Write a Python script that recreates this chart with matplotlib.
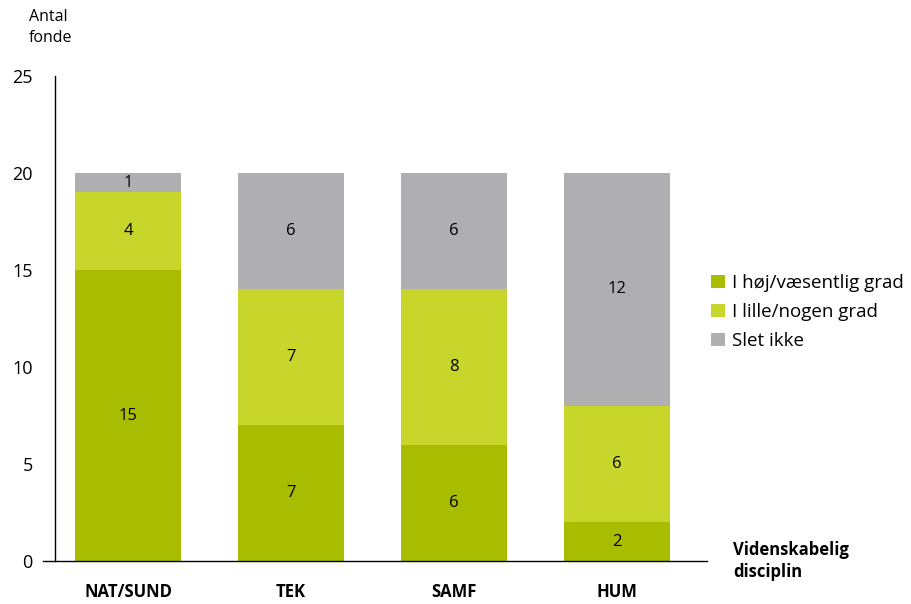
import matplotlib.pyplot as plt
import numpy as np

plt.rcParams['font.family'] = ['Open Sans', 'DejaVu Sans']

categories = ['NAT/SUND', 'TEK', 'SAMF', 'HUM']
hoej = [15, 7, 6, 2]
lille = [4, 7, 8, 6]
slet = [1, 6, 6, 12]
series_names = ['I høj/væsentlig grad', 'I lille/nogen grad', 'Slet ikke']
colors = ['#a9bd00', '#c8d62b', '#afafb2']

fig = plt.figure(figsize=(9.11, 6.04), dpi=100)
ax = fig.add_axes([55/911, 1 - 561/604, (707 - 55)/911, (561 - 76)/604])

x = np.arange(len(categories))
bottom = np.zeros(len(categories))
handles = []
for vals, name, c in zip([hoej, lille, slet], series_names, colors):
    b = ax.bar(x, vals, width=0.65, bottom=bottom, color=c, label=name)
    handles.append(b)
    for xi, v, b0 in zip(x, vals, bottom):
        ax.text(xi, b0 + v / 2, str(v), ha='center', va='center', fontsize=12)
    bottom += np.array(vals)

ax.set_xlim(-0.45, 3.555)
ax.set_ylim(0, 25)
ax.set_yticks([0, 5, 10, 15, 20, 25])
ax.tick_params(axis='y', length=0, labelsize=13, pad=16)
ax.set_xticks(x)
ax.set_xticklabels(categories, fontsize=12, fontweight='bold')
ax.tick_params(axis='x', length=0, pad=16)
for s in ['top', 'right', 'bottom']:
    ax.spines[s].set_visible(False)
ax.spines['left'].set_linewidth(1)
ax.plot([-0.018, 1], [0, 0], transform=ax.transAxes, color='black', lw=1, clip_on=False)

ax.text(-0.04, 1.1, 'Antal\nfonde', transform=ax.transAxes, fontsize=11.5,
        ha='left', va='center', linespacing=1.35)
ax.text(1.04, 0.0, 'Videnskabelig\ndisciplin', transform=ax.transAxes, fontsize=12,
        fontweight='bold', ha='left', va='center', linespacing=1.35)

fig.legend(handles=handles, labels=series_names, loc='center left',
           bbox_to_anchor=(694/911, 1 - 312/604), frameon=False, fontsize=13.5,
           handlelength=0.75, handleheight=0.72, handletextpad=0.35, labelspacing=0.58)

fig.savefig('out.png', dpi=100)
